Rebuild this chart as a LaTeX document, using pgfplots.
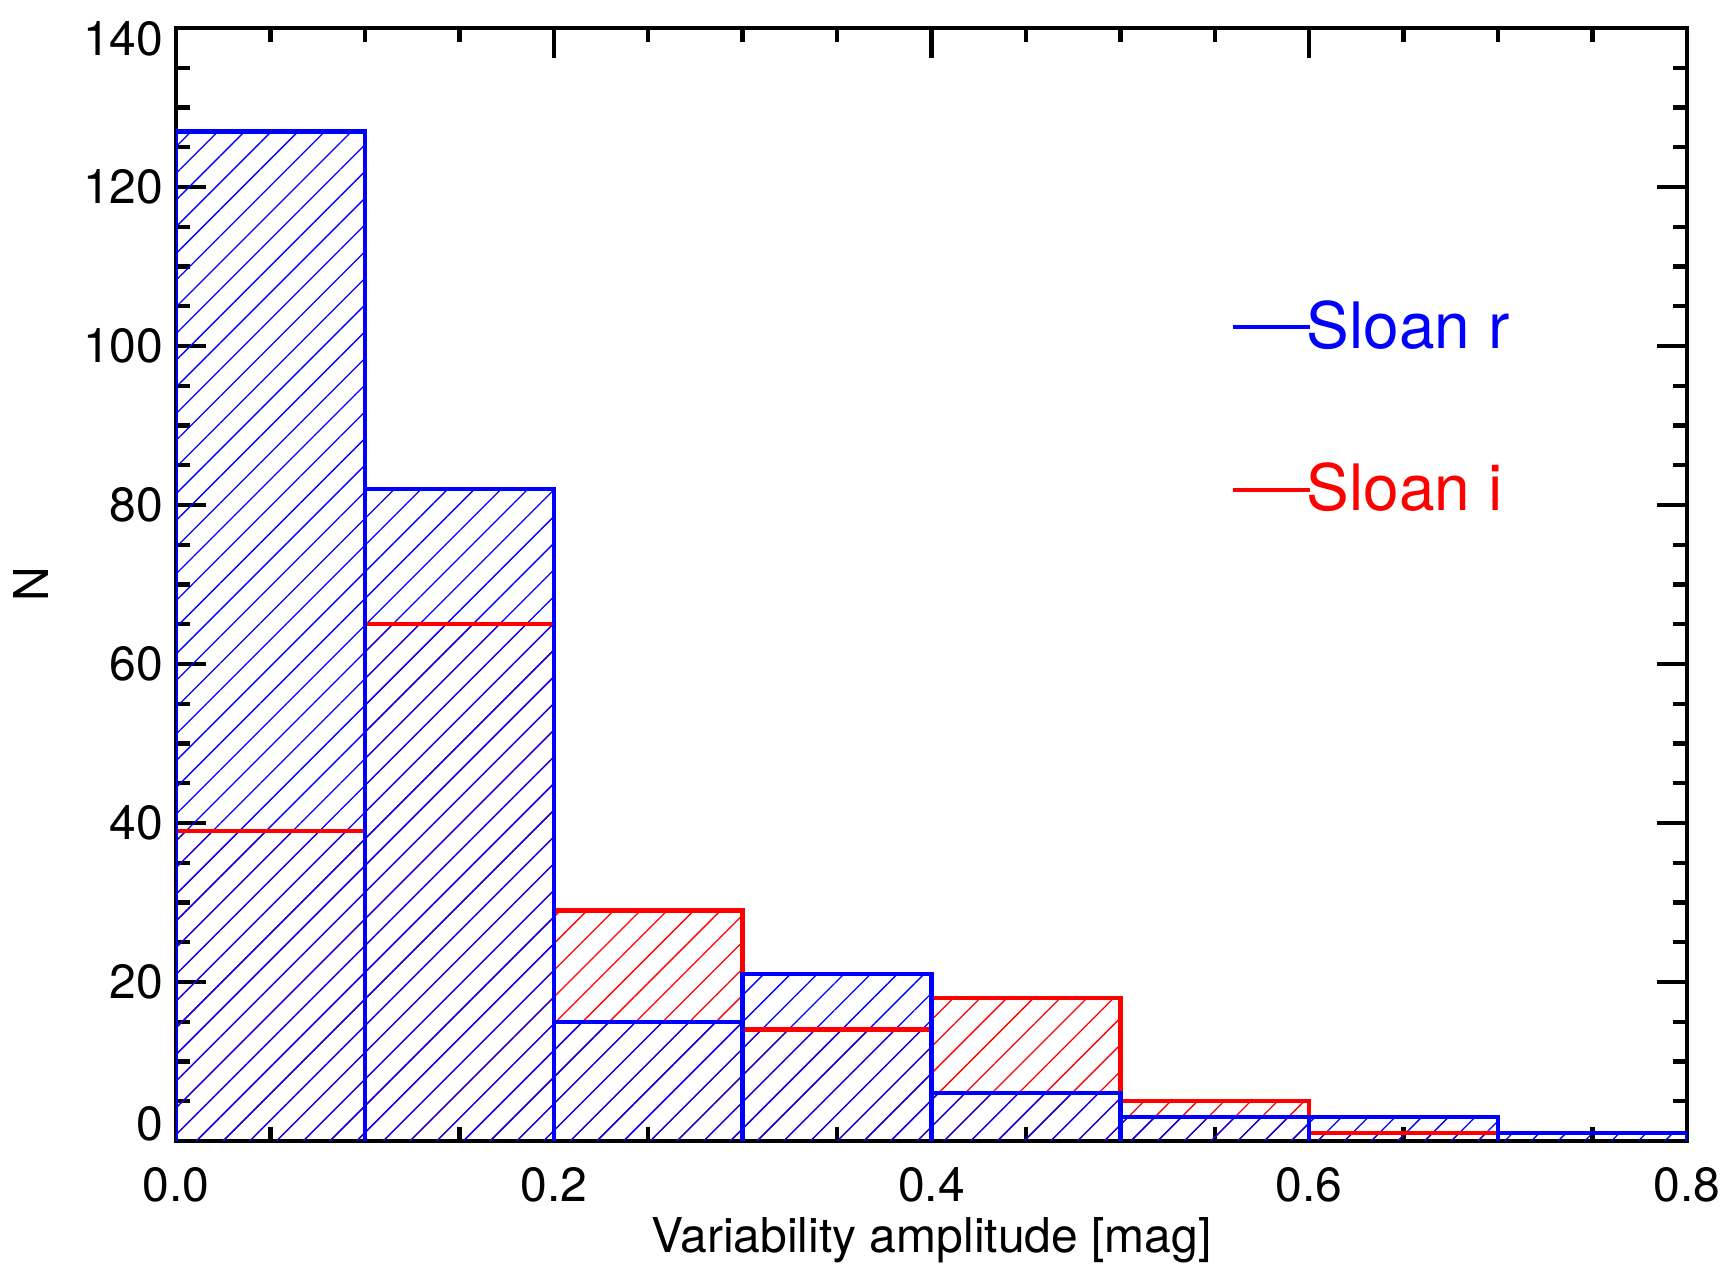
\documentclass[border=0pt]{standalone}
\usepackage{pgfplots}
\pgfplotsset{compat=1.18}
\usepackage{fontspec}
\setmainfont{TeX Gyre Heros}
\usetikzlibrary{patterns.meta}
\newcommand{\tfont}{\fontsize{12}{14}\selectfont}
\begin{document}
\begin{tikzpicture}
\begin{axis}[
  scale only axis, width=377.75pt, height=278.25pt,
  at={(0,0)}, anchor=south west,
  xmin=0, xmax=0.8, ymin=0, ymax=140,
  xtick={0,0.2,0.4,0.6,0.8}, ytick={0,20,40,60,80,100,120,140},
  minor x tick num=3, minor y tick num=3,
  tick align=inside, tick pos=both,
  major tick length=7.5pt, minor tick length=3.6pt,
  every tick/.style={black, line width=1.1pt},
  axis line style={line width=1.1pt},
  xticklabel style={font=\tfont, anchor=base, yshift=-15.25pt},
  /pgf/number format/.cd, fixed, fixed zerofill, precision=1, assume math mode=true, /pgfplots/.cd,
  yticklabels={\raisebox{4.25pt}[\height][\depth]{0},20,40,60,80,100,120,\raisebox{-2.75pt}[\height][\depth]{140}},
  yticklabel style={font=\tfont, anchor=east, inner sep=0pt, xshift=-3pt},
  xlabel={Variability amplitude [mag]}, ylabel={N},
  xlabel style={font=\tfont, at={(axis description cs:0.5,-0.09973)}, anchor=base},
  ylabel style={font=\tfont, at={(axis description cs:-0.09596,0.5)}, anchor=center},
  legend style={draw=none, fill=none, at={(axis description cs:0.6975,0.756)}, anchor=north west,
    inner sep=0pt, row sep=27.25pt, font=\fontsize{16}{18}\selectfont,
    nodes={inner sep=0pt}, column sep=0pt,
    /tikz/every odd column/.append style={column sep=-1.2pt}},
  legend cell align=left,
  legend image code/.code={\draw[#1] (0pt,0pt) -- (19.25pt,0pt);},
]
% fills
\addplot[forget plot, ybar interval, draw=none, pattern={Lines[angle=45, distance=4.72pt, line width=0.33pt]}, pattern color=red]
  coordinates {(0,39) (0.1,65) (0.2,29) (0.3,14) (0.4,18) (0.5,5) (0.6,1) (0.7,0)};
\addplot[forget plot, ybar interval, draw=none, pattern={Lines[angle=45, distance=4.72pt, line width=0.33pt]}, pattern color=blue]
  coordinates {(0,127) (0.1,82) (0.2,15) (0.3,21) (0.4,6) (0.5,3) (0.6,3) (0.7,1) (0.8,1)};
% red outline
\addplot[forget plot, const plot, red, line width=1.1pt, line cap=rect, mark=none]
  coordinates {(0,39) (0.1,65) (0.2,29) (0.3,14) (0.4,18) (0.5,5) (0.6,1) (0.7,1)};
\addplot[forget plot, ycomb, red, line width=1.1pt, mark=none]
  coordinates {(0,39) (0.1,65) (0.2,65) (0.3,29) (0.4,18) (0.5,18) (0.6,5) (0.7,1)};
% blue outline
\addplot[forget plot, const plot, blue, line width=1.1pt, line cap=rect, mark=none]
  coordinates {(0,127) (0.1,82) (0.2,15) (0.3,21) (0.4,6) (0.5,3) (0.6,3) (0.7,1) (0.8,1)};
\addplot[forget plot, ycomb, blue, line width=1.1pt, mark=none]
  coordinates {(0,127) (0.1,127) (0.2,82) (0.3,21) (0.4,21) (0.5,6) (0.6,3) (0.7,3) (0.8,1)};
\addlegendimage{blue, line width=1pt}
\addlegendentry{\textcolor{blue}{Sloan r}}
\addlegendimage{red, line width=1pt}
\addlegendentry{\textcolor{red}{Sloan i}}
\end{axis}
\pgfresetboundingbox
\path (-44pt,-35.75pt) rectangle (389.75pt,285.25pt);
\end{tikzpicture}
\end{document}
